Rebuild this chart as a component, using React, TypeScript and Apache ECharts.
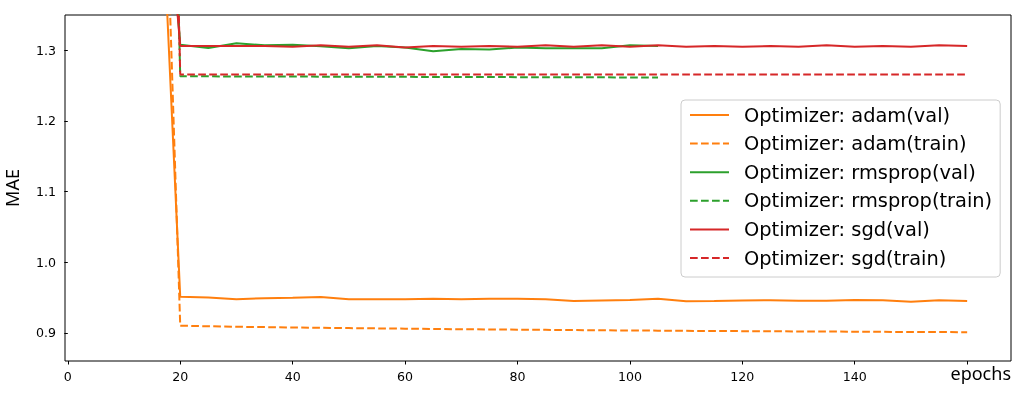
import React, { useEffect, useRef } from "react";
import * as echarts from "echarts";

// epochs (first point lies above the visible range)
const epochsFull = [15, 20, 25, 30, 35, 40, 45, 50, 55, 60, 65, 70, 75, 80, 85, 90, 95, 100, 105, 110, 115, 120, 125, 130, 135, 140, 145, 150, 155, 160];
const epochsRms = [15, 20, 25, 30, 35, 40, 45, 50, 55, 60, 65, 70, 75, 80, 85, 90, 95, 100, 105];

const adamVal = [1.82, 0.951, 0.950, 0.9475, 0.949, 0.9495, 0.9505, 0.9475, 0.9475, 0.9475, 0.948, 0.9475, 0.948, 0.948, 0.9475, 0.945, 0.9458, 0.9465, 0.948, 0.9445, 0.945, 0.9458, 0.946, 0.9452, 0.9455, 0.9465, 0.946, 0.944, 0.946, 0.945];
const adamTrain = [2.14, 0.910, 0.9092, 0.9085, 0.908, 0.9075, 0.907, 0.9066, 0.9062, 0.9058, 0.9054, 0.905, 0.9047, 0.9044, 0.9041, 0.9038, 0.9035, 0.9032, 0.903, 0.9027, 0.9025, 0.9023, 0.9021, 0.9019, 0.9017, 0.9015, 0.9013, 0.9011, 0.901, 0.9008];
const rmspropVal = [1.8, 1.308, 1.3033, 1.310, 1.307, 1.308, 1.3057, 1.303, 1.306, 1.304, 1.2986, 1.302, 1.301, 1.304, 1.303, 1.303, 1.303, 1.307, 1.306];
const rmspropTrain = [2.9, 1.2632, 1.2631, 1.263, 1.2629, 1.2628, 1.2627, 1.2626, 1.2625, 1.2624, 1.2623, 1.2622, 1.2621, 1.262, 1.2619, 1.2618, 1.2617, 1.2616, 1.2615];
const sgdVal = [1.784, 1.306, 1.306, 1.306, 1.306, 1.305, 1.307, 1.305, 1.307, 1.304, 1.306, 1.305, 1.306, 1.305, 1.307, 1.305, 1.307, 1.305, 1.307, 1.305, 1.306, 1.305, 1.306, 1.305, 1.307, 1.305, 1.306, 1.305, 1.307, 1.306];
const sgdTrain = [3.0, 1.2656, 1.2656, 1.2656, 1.2656, 1.2656, 1.2656, 1.2656, 1.2656, 1.2656, 1.2656, 1.2656, 1.2656, 1.2656, 1.2656, 1.2656, 1.2656, 1.2656, 1.2656, 1.2656, 1.2656, 1.2656, 1.2656, 1.2656, 1.2656, 1.2656, 1.2656, 1.2656, 1.2656, 1.2656];

const xTicks = [0, 20, 40, 60, 80, 100, 120, 140, 160];
// the "160" label is covered by the axis title in the reference
const xTickLabels = [0, 20, 40, 60, 80, 100, 120, 140];
const yTicks = [0.9, 1.0, 1.1, 1.2, 1.3];

const seriesNames = [
  "Optimizer: adam(val)",
  "Optimizer: adam(train)",
  "Optimizer: rmsprop(val)",
  "Optimizer: rmsprop(train)",
  "Optimizer: sgd(val)",
  "Optimizer: sgd(train)",
];
const xName = "epochs";
const yName = "MAE";

const ORANGE = "#ff7f0e";
const GREEN = "#2ca02c";
const RED = "#d62728";
const FONT = "DejaVu Sans";
const DASH = [7.7, 3.3];

const pairs = (xs: number[], ys: number[]) => xs.map((x, i) => [x, ys[i]]);

export default function App() {
  const ref = useRef<HTMLDivElement>(null);
  useEffect(() => {
    if (!ref.current) return;
    const chart = echarts.init(ref.current, null, { renderer: "svg" });
    const mk = (name: string, xs: number[], ys: number[], color: string, dashed: boolean) => ({
      name,
      type: "line",
      data: pairs(xs, ys),
      symbol: "none",
      showSymbol: false,
      clip: true,
      lineStyle: { color, width: 2, type: dashed ? DASH : "solid" },
      itemStyle: { color },
      emphasis: { disabled: true },
    });
    chart.setOption({
      animation: false,
      grid: {
        left: 65,
        right: 15,
        top: 15,
        bottom: 39,
        show: true,
        borderColor: "#000",
        borderWidth: 1,
        backgroundColor: "transparent",
        containLabel: false,
        outerBoundsMode: "none",
      },
      graphic: [
        {
          type: "text",
          right: 15,
          top: 364,
          style: { text: xName, fontFamily: "Noto Sans", fontSize: 18, fill: "#000" },
        },
      ],
      xAxis: {
        type: "value",
        min: -0.5,
        max: 167.8,
        axisLine: { show: false },
        splitLine: { show: false },
        axisTick: { show: true, length: 3.5, lineStyle: { color: "#000", width: 1 }, customValues: xTicks },
        axisLabel: {
          customValues: xTickLabels,
          fontFamily: FONT,
          fontSize: 12.6,
          color: "#000",
          margin: 9,
          formatter: (v: number) => String(v),
        },
      },
      yAxis: {
        type: "value",
        min: 0.86,
        max: 1.35,
        name: yName,
        nameLocation: "middle",
        nameGap: 44,
        nameRotate: 90,
        nameTextStyle: { fontFamily: "Noto Sans", fontSize: 18, color: "#000" },
        axisLine: { show: false },
        splitLine: { show: false },
        axisTick: { show: true, length: 3.5, lineStyle: { color: "#000", width: 1 }, customValues: yTicks },
        axisLabel: {
          customValues: yTicks,
          fontFamily: FONT,
          fontSize: 12.6,
          color: "#000",
          margin: 9,
          formatter: (v: number) => v.toFixed(1),
        },
      },
      legend: {
        orient: "vertical",
        left: 681,
        top: 100,
        itemWidth: 39,
        itemHeight: 20,
        itemGap: 8.6,
        padding: [5, 8, 9, 8],
        backgroundColor: "rgba(255,255,255,0.8)",
        borderColor: "#cccccc",
        borderWidth: 1,
        borderRadius: 4,
        selectedMode: false,
        itemStyle: { opacity: 0, borderWidth: 0 },
        textStyle: { fontFamily: FONT, fontSize: 19.4, color: "#000", lineHeight: 20, padding: [0, 0, 0, 10] },
        data: seriesNames,
      },
      series: [
        mk(seriesNames[0], epochsFull, adamVal, ORANGE, false),
        mk(seriesNames[1], epochsFull, adamTrain, ORANGE, true),
        mk(seriesNames[2], epochsRms, rmspropVal, GREEN, false),
        mk(seriesNames[3], epochsRms, rmspropTrain, GREEN, true),
        mk(seriesNames[4], epochsFull, sgdVal, RED, false),
        mk(seriesNames[5], epochsFull, sgdTrain, RED, true),
      ],
    });
    return () => chart.dispose();
  }, []);
  return <div ref={ref} style={{ position: "fixed", left: 0, top: 0, width: 1026, height: 400 }} />;
}
